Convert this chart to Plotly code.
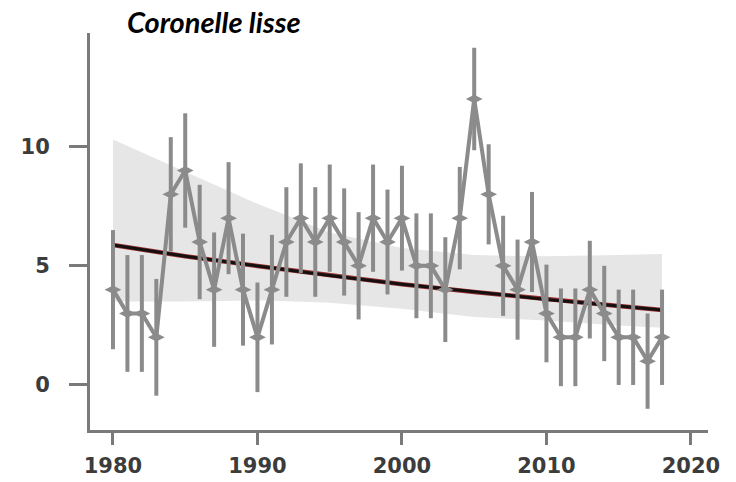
import plotly.graph_objects as go

# ---- data ----
years = list(range(1980, 2019))
counts = [4, 3, 3, 2, 8, 9, 6, 4, 7, 4,
          2, 4, 6, 7, 6, 7, 6, 5, 7, 6,
          7, 5, 5, 4, 7, 12, 8, 5, 4, 6,
          3, 2, 2, 4, 3, 2, 2, 1, 2]
errors = [2.5, 2.45, 2.45, 2.45, 2.4, 2.4, 2.4, 2.4, 2.35, 2.35,
          2.3, 2.3, 2.3, 2.3, 2.3, 2.25, 2.25, 2.25, 2.25, 2.2,
          2.2, 2.2, 2.2, 2.2, 2.15, 2.15, 2.1, 2.1, 2.1, 2.1,
          2.05, 2.05, 2.05, 2.05, 2.0, 2.0, 2.0, 2.0, 2.0]

fit_years = [1980, 1985, 1990, 1995, 2000, 2005, 2010, 2015, 2018]
fit_trend = [5.87, 5.40, 4.99, 4.59, 4.23, 3.90, 3.59, 3.31, 3.15]
fit_upper = [10.3, 8.95, 7.6, 6.4, 5.75, 5.45, 5.4, 5.45, 5.5]
fit_lower = [3.5, 3.5, 3.55, 3.45, 3.2, 2.85, 2.7, 2.5, 2.4]

x_ticks = [1980, 1990, 2000, 2010, 2020]
y_ticks = [0, 5, 10]
title_text = "Coronelle lisse"

GREY = "#8b8b8b"
AXIS = "#7a7a7a"
LABEL = "#3c3c3c"

fig = go.Figure()

# confidence band
fig.add_trace(go.Scatter(
    x=fit_years + fit_years[::-1],
    y=fit_upper + fit_lower[::-1],
    fill="toself", fillcolor="#e6e6e6",
    line=dict(width=0), mode="lines", hoverinfo="skip", showlegend=False))

# trend line (dark red edge + black core)
fig.add_trace(go.Scatter(x=fit_years, y=fit_trend, mode="lines",
                         line=dict(color="#9a3030", width=4.5), showlegend=False))
fig.add_trace(go.Scatter(x=fit_years, y=fit_trend, mode="lines",
                         line=dict(color="#141010", width=3), showlegend=False))

# annual counts with error bars
fig.add_trace(go.Scatter(
    x=years, y=counts, mode="lines+markers",
    line=dict(color=GREY, width=4),
    marker=dict(symbol="diamond-wide", size=12, color=GREY),
    error_y=dict(type="data", array=errors, visible=True,
                 color=GREY, thickness=4, width=0),
    showlegend=False))

fig.add_annotation(
    text="<b><i>" + title_text + "</i></b>",
    xref="paper", yref="paper", x=0.056, y=1.028,
    xanchor="left", yanchor="middle", showarrow=False,
    font=dict(family="Lato", size=29, color="#000000"))

fig.update_layout(
    width=736, height=482,
    margin=dict(l=90, r=28, t=33, b=52),
    plot_bgcolor="white", paper_bgcolor="white",
    showlegend=False,
)
fig.update_xaxes(
    range=[1978.41, 2021.18], tickvals=x_ticks, automargin=False,
    showgrid=False, zeroline=False,
    showline=True, linecolor=AXIS, linewidth=3,
    ticks="outside", ticklen=12, tickwidth=3, tickcolor=AXIS,
    ticklabelstandoff=3,
    tickfont=dict(family="DejaVu Sans", size=21, color=LABEL, weight="bold"))
fig.update_yaxes(
    range=[-1.89, 14.77], tickvals=y_ticks, automargin=False,
    showgrid=False, zeroline=False,
    showline=True, linecolor=AXIS, linewidth=3,
    ticks="outside", ticklen=18, tickwidth=3, tickcolor=AXIS,
    ticklabelstandoff=15,
    tickfont=dict(family="DejaVu Sans", size=21, color=LABEL, weight="bold"))

fig.write_html("out.html")
